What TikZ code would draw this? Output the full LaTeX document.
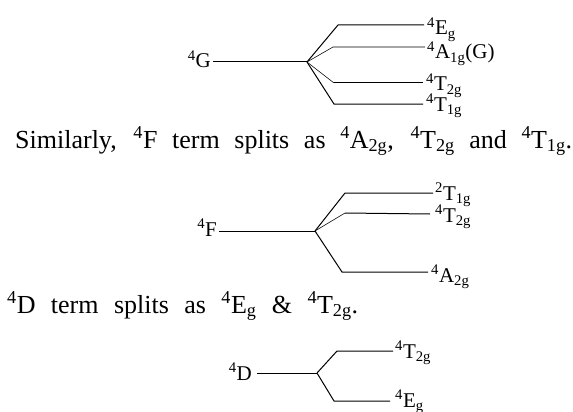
\documentclass[tikz,border=0pt]{standalone}
\usepackage{fontspec}
\setmainfont{Liberation Serif}
\usepackage{tikz}
\usetikzlibrary{positioning}

\newcommand{\sterm}[3]{\textsuperscript{#1}#2\textsubscript{#3}}

\begin{document}
\begin{tikzpicture}[x=1pt, y=-1pt,
                lab/.style={inner sep=0pt, anchor=base west, font=\fontsize{21}{24}\selectfont},
                parent/.style={inner sep=0pt, anchor=base east, font=\fontsize{21}{24}\selectfont},
                sentence/.style={inner sep=0pt, anchor=base west, font=\fontsize{26}{30}\selectfont},
                level/.style={line width=1pt},
                weak/.style={line width=0.55pt}
            ]
                \useasboundingbox (0,0) rectangle (573,412);

                % 4G splitting
                \node (G) [parent] at (211,68) {\textsuperscript{4}G};
                \coordinate (gb) at (307,62);
                \coordinate (ga) at (338,25);  \coordinate (gae) at (424,25);
                \coordinate (gc) at (333,47);  \coordinate (gce) at (425,47);
                \coordinate (gd) at (334,83);  \coordinate (gde) at (423,83);
                \coordinate (gf) at (334,104); \coordinate (gfe) at (423,104);
                \node (gEg) [lab] at (427,35) {\sterm{4}{E}{g}};
                \node (gA1g) [lab] at (427,59) {\sterm{4}{A}{1g}(G)};
                \node (gT2g) [lab] at (426,91) {\sterm{4}{T}{2g}};
                \node (gT1g) [lab] at (426,111) {\sterm{4}{T}{1g}};

                \draw [level] ([xshift=2pt]G.east |- gb) -- (gb);
                \draw [level] (gb) -- (ga) -- (gae);
                \draw [weak] (gb) -- (gc) -- (gce);
                \draw [weak] (gb) -- (gd);
                \draw [level] (gd) -- (gde);
                \draw [level] (gb) -- (gf) -- (gfe);

                % sentence on 4F
                \node (simF) [sentence] at (15,148) {\makebox[557pt][s]{Similarly, \textsuperscript{4}F term splits as \sterm{4}{A}{2g}, \sterm{4}{T}{2g} and \sterm{4}{T}{1g}.}};

                % 4F splitting
                \node (F) [parent] at (217,236) {\textsuperscript{4}F};
                \coordinate (fb) at (315,231);
                \coordinate (fa) at (345,193); \coordinate (fae) at (433,193);
                \coordinate (fc) at (345,213); \coordinate (fce) at (430,214);
                \coordinate (fd) at (342,272); \coordinate (fde) at (428,272);
                \node (fT1g) [lab] at (435,200) {\sterm{2}{T}{1g}};
                \node (fT2g) [lab] at (435,222) {\sterm{4}{T}{2g}};
                \node (fA2g) [lab] at (431,282) {\sterm{4}{A}{2g}};

                \draw [level] ([xshift=2pt]F.east |- fb) -- (fb);
                \draw [level] (fb) -- (fa) -- (fae);
                \draw [weak] (fb) -- (fc);
                \draw [level] (fc) -- (fce);
                \draw [level] (fb) -- (fd) -- (fde);

                % sentence on 4D
                \node (simD) [sentence] at (7,313) {\makebox[351pt][s]{\textsuperscript{4}D term splits as \sterm{4}{E}{g} \& \sterm{4}{T}{2g}.}};

                % 4D splitting
                \node (D) [parent] at (252,380) {\textsuperscript{4}D};
                \coordinate (db) at (317,373);
                \coordinate (da) at (337,351); \coordinate (dae) at (393,351);
                \coordinate (dc) at (334,401); \coordinate (dce) at (390,401);
                \node (dT2g) [lab] at (395,358) {\sterm{4}{T}{2g}};
                \node (dEg) [lab] at (395,407) {\sterm{4}{E}{g}};

                \draw [level] ([xshift=5pt]D.east |- db) -- (db);
                \draw [level] (db) -- (da) -- (dae);
                \draw [level] (db) -- (dc) -- (dce);
            \end{tikzpicture}
\end{document}
